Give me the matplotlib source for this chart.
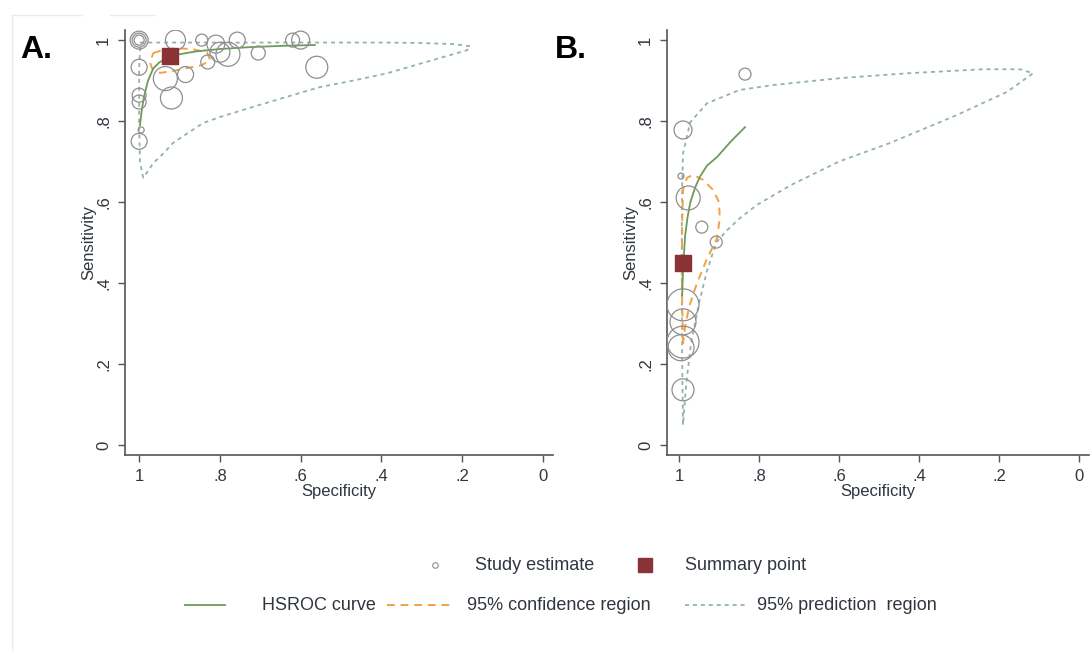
import matplotlib
matplotlib.use('Agg')
import matplotlib.pyplot as plt
from matplotlib.lines import Line2D

plt.rcParams['font.family'] = ['Liberation Sans', 'DejaVu Sans']

# ---------------- Panel A data ----------------
a_spec = [1.0, 1.0, 1.0, 0.91, 0.845, 0.81, 0.80, 0.78, 0.757, 0.705, 0.62, 0.60,
          0.56, 1.0, 1.0, 1.0, 0.995, 1.0, 0.935, 0.885, 0.92, 0.83]
a_sens = [1.0, 1.0, 1.0, 1.0, 1.0, 0.99, 0.97, 0.965, 1.0, 0.968, 1.0, 1.0,
          0.933, 0.933, 0.864, 0.847, 0.778, 0.75, 0.905, 0.915, 0.857, 0.946]
a_weight = [9, 7, 5, 10, 6, 9, 10, 12, 8, 7, 7, 9,
            11, 8, 7, 7, 3, 8, 12, 8, 11, 7]
a_sum_spec = [0.923]
a_sum_sens = [0.960]
a_hsroc_spec = [0.998, 0.993, 0.988, 0.978, 0.965, 0.95, 0.93, 0.90, 0.86, 0.80, 0.72, 0.64, 0.565]
a_hsroc_sens = [0.79, 0.83, 0.86, 0.90, 0.93, 0.945, 0.956, 0.965, 0.972, 0.978, 0.983, 0.986, 0.988]
a_conf_spec = [0.965, 0.94, 0.911, 0.87, 0.832, 0.824, 0.845, 0.881, 0.915, 0.948, 0.968, 0.973, 0.965]
a_conf_sens = [0.968, 0.976, 0.980, 0.978, 0.970, 0.951, 0.938, 0.931, 0.924, 0.919, 0.930, 0.945, 0.968]
a_pred_spec = [0.997, 0.80, 0.60, 0.40, 0.304, 0.22, 0.18, 0.188, 0.272, 0.386, 0.47, 0.552, 0.634,
               0.718, 0.80, 0.842, 0.88, 0.916, 0.94, 0.965, 0.985, 0.99, 0.998, 1.0, 1.0, 0.997]
a_pred_sens = [0.994, 0.994, 0.994, 0.994, 0.993, 0.99, 0.985, 0.975, 0.951, 0.918, 0.90, 0.884, 0.86,
               0.835, 0.81, 0.795, 0.77, 0.746, 0.72, 0.696, 0.667, 0.66, 0.70, 0.80, 0.926, 0.994]

# ---------------- Panel B data ----------------
b_spec = [0.835, 0.99, 0.995, 0.977, 0.943, 0.907, 0.99, 0.99, 0.99, 0.995, 0.99]
b_sens = [0.916, 0.778, 0.664, 0.61, 0.538, 0.501, 0.346, 0.304, 0.254, 0.24, 0.136]
b_weight = [6, 9, 3, 12, 6, 6, 16, 13, 16, 13, 11]
b_sum_spec = [0.99]
b_sum_sens = [0.449]
b_hsroc_spec = [0.992, 0.99, 0.987, 0.985, 0.979, 0.972, 0.96, 0.948, 0.93, 0.905, 0.87, 0.835]
b_hsroc_sens = [0.37, 0.432, 0.48, 0.514, 0.56, 0.598, 0.635, 0.662, 0.69, 0.711, 0.75, 0.785]
b_conf_spec = [0.99, 0.992, 0.993, 0.992, 0.99, 0.98, 0.965, 0.94, 0.915, 0.90, 0.898, 0.905,
               0.93, 0.955, 0.975, 0.985, 0.99]
b_conf_sens = [0.25, 0.35, 0.45, 0.55, 0.63, 0.66, 0.667, 0.655, 0.63, 0.60, 0.56, 0.51,
               0.46, 0.40, 0.34, 0.29, 0.25]
b_pred_spec = [0.99, 0.992, 0.993, 0.993, 0.992, 0.99, 0.972, 0.93, 0.848, 0.765, 0.598, 0.43,
               0.24, 0.147, 0.115, 0.18, 0.305, 0.472, 0.60, 0.72, 0.805, 0.848, 0.88, 0.907,
               0.93, 0.95, 0.97, 0.982, 0.99]
b_pred_sens = [0.05, 0.20, 0.40, 0.55, 0.65, 0.72, 0.797, 0.844, 0.877, 0.889, 0.906, 0.918,
               0.928, 0.928, 0.918, 0.872, 0.815, 0.746, 0.70, 0.642, 0.593, 0.56, 0.53, 0.50,
               0.43, 0.35, 0.25, 0.15, 0.05]

tick_vals = [0, 0.2, 0.4, 0.6, 0.8, 1]
tick_labels = ['0', '.2', '.4', '.6', '.8', '1']

# ---------------- styling ----------------
C_CIRCLE = '#8e8e8e'
C_SUM = '#8b3236'
C_HSROC = '#6e9a5a'
C_CONF = '#f2a245'
C_PRED = '#93b3a6'
C_TEXT = '#30363f'
C_AXIS = '#555555'

W, H = 1092, 655
fig = plt.figure(figsize=(W / 100, H / 100), dpi=100)


def px_axes(l, t, r, b):
    return fig.add_axes([l / W, 1 - b / H, (r - l) / W, (b - t) / H])


def style(ax, xleft):
    ax.set_xlim(xleft, -0.025)
    ax.set_ylim(-0.025, 1.025)
    for s in ['top', 'right']:
        ax.spines[s].set_visible(False)
    for s in ['left', 'bottom']:
        ax.spines[s].set_color(C_AXIS)
        ax.spines[s].set_linewidth(1.2)
    ax.set_xticks(tick_vals, tick_labels)
    ax.set_yticks(tick_vals, tick_labels)
    ax.tick_params(direction='out', length=5, width=1, color=C_AXIS,
                   labelsize=12, labelcolor=C_TEXT, pad=5)
    ax.tick_params(axis='y', labelrotation=90)
    for lbl in ax.get_yticklabels():
        lbl.set_va('center')
    ax.set_xlabel('Specificity', fontsize=12, color=C_TEXT, labelpad=0)
    ax.set_ylabel('Sensitivity', fontsize=12, color=C_TEXT, labelpad=0)


def draw(ax, spec, sens, wt, sspec, ssens, hs, hy, cs, cy, ps, py):
    ax.plot(ps, py, color=C_PRED, lw=1.3, ls=(0, (2.2, 2.2)), zorder=2)
    ax.plot(cs, cy, color=C_CONF, lw=1.4, ls=(0, (4, 3)), zorder=3)
    ax.plot(hs, hy, color=C_HSROC, lw=1.3, zorder=4)
    ax.scatter(spec, sens, s=[2.07 * w ** 2 for w in wt], facecolors='none',
               edgecolors=C_CIRCLE, linewidths=0.9, zorder=5)
    ax.scatter(sspec, ssens, marker='s', s=130, color=C_SUM, zorder=6)


axA = px_axes(125, 30, 553, 455)
axB = px_axes(667, 30, 1089, 455)
style(axA, 1.035)
style(axB, 1.03)
draw(axA, a_spec, a_sens, a_weight, a_sum_spec, a_sum_sens,
     a_hsroc_spec, a_hsroc_sens, a_conf_spec, a_conf_sens, a_pred_spec, a_pred_sens)
draw(axB, b_spec, b_sens, b_weight, b_sum_spec, b_sum_sens,
     b_hsroc_spec, b_hsroc_sens, b_conf_spec, b_conf_sens, b_pred_spec, b_pred_sens)

fig.text(20 / W, 1 - 50 / H, 'A.', fontsize=23, fontweight='bold', va='center', ha='left', color='black')
fig.text(555 / W, 1 - 50 / H, 'B.', fontsize=23, fontweight='bold', va='center', ha='left', color='black')

# ---------------- legend ----------------
def fx(x):
    return x / W


def fy(y):
    return 1 - y / H


y1, y2 = 565, 605
fig.add_artist(Line2D([fx(435)], [fy(y1)], marker='o', ms=4, mfc='none', mec=C_CIRCLE, mew=0.8,
                      ls='none', transform=fig.transFigure))
fig.text(fx(475), fy(y1), 'Study estimate', fontsize=13, color=C_TEXT, va='center')
fig.add_artist(Line2D([fx(645)], [fy(y1)], marker='s', ms=10, color=C_SUM, ls='none',
                      transform=fig.transFigure))
fig.text(fx(685), fy(y1), 'Summary point', fontsize=13, color=C_TEXT, va='center')

fig.add_artist(Line2D([fx(185), fx(225)], [fy(y2), fy(y2)], color=C_HSROC, lw=1.3,
                      transform=fig.transFigure))
fig.text(fx(262), fy(y2), 'HSROC curve', fontsize=13, color=C_TEXT, va='center')
fig.add_artist(Line2D([fx(387), fx(455)], [fy(y2), fy(y2)], color=C_CONF, lw=1.4, ls=(0, (4, 3)),
                      transform=fig.transFigure))
fig.text(fx(467), fy(y2), '95% confidence region', fontsize=13, color=C_TEXT, va='center')
fig.add_artist(Line2D([fx(685), fx(745)], [fy(y2), fy(y2)], color=C_PRED, lw=1.3, ls=(0, (2.2, 2.2)),
                      transform=fig.transFigure))
fig.text(fx(757), fy(y2), '95% prediction  region', fontsize=13, color=C_TEXT, va='center')

# faint screenshot frame
frame_c = '#e6edf2'
fig.add_artist(Line2D([fx(11.5), fx(11.5)], [fy(15), fy(650)], color=frame_c, lw=1, transform=fig.transFigure))
fig.add_artist(Line2D([fx(11.5), fx(82)], [fy(15), fy(15)], color=frame_c, lw=1, transform=fig.transFigure))
fig.add_artist(Line2D([fx(110), fx(155)], [fy(15), fy(15)], color=frame_c, lw=1, transform=fig.transFigure))

fig.savefig('out.png', dpi=100)
